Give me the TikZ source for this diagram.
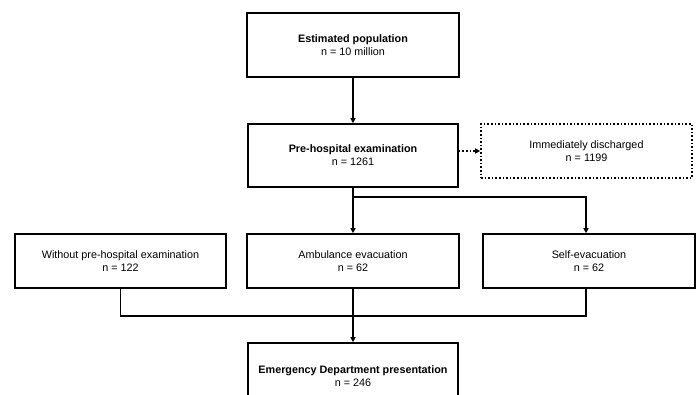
\documentclass[tikz,border=0pt]{standalone}
\usepackage{fontspec}
\setmainfont{Liberation Sans}
\usetikzlibrary{arrows.meta, positioning}

\tikzset{
    stagebox/.style={draw, line width=1.6pt, fill=white, align=center, inner sep=2pt,
        font=\fontsize{10.8}{13}\selectfont},
    link/.style={line width=1.6pt},
    linkarrow/.style={line width=1.6pt, -{Triangle[length=5pt,width=5pt]}}
}

\begin{document}
\begin{tikzpicture}[x=1pt, y=-1pt]
        \useasboundingbox (0,0) rectangle (699,394);
        \clip (0,0) rectangle (699,394);

        \node[stagebox, minimum width=212pt, minimum height=64pt] at (353, 45)   (pop) {\textbf{Estimated population}\\n = 10 million};
        \node[stagebox, minimum width=210pt, minimum height=63pt] at (353, 155.5)   (exam) {\textbf{Pre-hospital examination}\\n = 1261};
        \node[stagebox, dotted, minimum width=211pt, minimum height=54pt] at (586.5, 151)   (disch) {Immediately discharged\\n = 1199};
        \node[stagebox, minimum width=211pt, minimum height=54pt] at (120.5, 261)   (without) {Without pre-hospital examination\\n = 122};
        \node[stagebox, minimum width=212pt, minimum height=54pt] at (353, 261)   (amb) {Ambulance evacuation\\n = 62};
        \node[stagebox, minimum width=212pt, minimum height=54pt] at (589, 261)   (self) {Self-evacuation\\n = 62};
        \node[stagebox, minimum width=210pt, minimum height=66pt] at (353, 376)   (ed) {\textbf{Emergency Department presentation}\\n = 246};

        \coordinate (split) at (353, 197);
        \coordinate (join) at (353, 316);

        \draw [linkarrow] (pop) -- (exam);
        \draw [linkarrow, dotted] (exam.east |- disch) -- (disch);
        \draw [link] (exam) -- (split);
        \draw [linkarrow] (split) -- (amb);
        \draw [linkarrow] (split) -| ([xshift=-3pt]self.north);
        \draw [link] (without) |- (join) -| ([xshift=-3pt]self.south);
        \draw [link] (amb) -- (join);
        \draw [linkarrow] (join) -- (ed);
    \end{tikzpicture}
\end{document}
